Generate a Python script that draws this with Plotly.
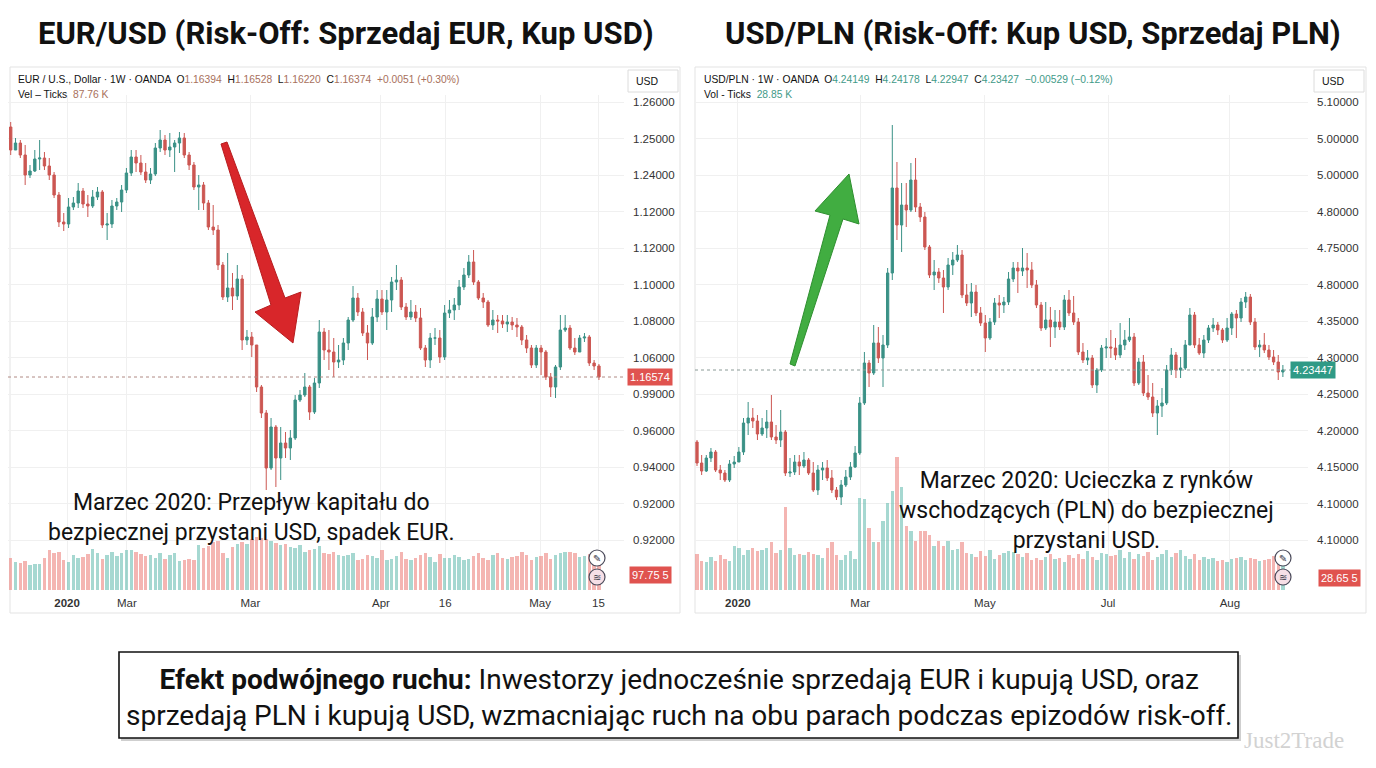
import plotly.graph_objects as go

W, H = 1376, 768
PAGE_PAD = 8  # the browser puts the figure 8px in from the page corner

# -----------------------------
# EUR/USD  (weekly candles, OANDA)
# -----------------------------
eur_first_open = 1.235
eur_close = [
    1.212, 1.219, 1.207, 1.187, 1.191, 1.203, 1.204, 1.196, 1.187, 1.167,
    1.140, 1.138, 1.155, 1.159, 1.171, 1.158, 1.156, 1.165, 1.170, 1.137,
    1.138, 1.156, 1.160, 1.172, 1.189, 1.205, 1.199, 1.190, 1.182, 1.188,
    1.214, 1.222, 1.212, 1.215, 1.219, 1.224, 1.207, 1.197, 1.175, 1.177,
    1.159, 1.135, 1.132, 1.097, 1.065, 1.074, 1.066, 1.083, 1.022, 1.025,
    1.017, 0.975, 0.949, 0.894, 0.935, 0.904, 0.919, 0.914, 0.924, 0.962,
    0.967, 0.975, 0.950, 0.979, 1.030, 1.012, 1.010, 1.000, 1.002, 1.019,
    1.042, 1.064, 1.050, 1.029, 1.019, 1.045, 1.063, 1.050, 1.062, 1.080,
    1.082, 1.055, 1.045, 1.050, 1.044, 1.014, 1.002, 1.024, 1.024, 1.005,
    1.049, 1.052, 1.057, 1.075, 1.087, 1.100, 1.080, 1.064, 1.060, 1.037,
    1.042, 1.041, 1.038, 1.040, 1.037, 1.035, 1.022, 1.014, 0.997, 1.014,
    1.010, 0.985, 0.975, 0.995, 1.032, 1.034, 1.014, 1.010, 1.024, 1.025,
    0.999, 0.996, 0.985,
]
eur_high = [
    1.240, 1.224, 1.222, 1.217, 1.197, 1.212, 1.222, 1.210, 1.204, 1.190,
    1.170, 1.149, 1.164, 1.165, 1.179, 1.174, 1.167, 1.172, 1.175, 1.172,
    1.149, 1.162, 1.164, 1.177, 1.194, 1.212, 1.212, 1.207, 1.199, 1.194,
    1.219, 1.232, 1.227, 1.229, 1.222, 1.230, 1.229, 1.210, 1.200, 1.187,
    1.180, 1.162, 1.157, 1.137, 1.100, 1.109, 1.089, 1.097, 1.087, 1.032,
    1.030, 1.017, 0.977, 0.952, 0.944, 0.937, 0.935, 0.930, 0.932, 0.967,
    0.972, 0.989, 0.977, 0.984, 1.042, 1.034, 1.032, 1.024, 1.017, 1.024,
    1.045, 1.076, 1.069, 1.054, 1.037, 1.054, 1.072, 1.072, 1.072, 1.085,
    1.097, 1.085, 1.059, 1.062, 1.057, 1.054, 1.017, 1.029, 1.034, 1.032,
    1.057, 1.062, 1.064, 1.082, 1.094, 1.107, 1.112, 1.082, 1.069, 1.062,
    1.052, 1.047, 1.047, 1.047, 1.045, 1.044, 1.037, 1.027, 1.017, 1.017,
    1.017, 1.012, 0.989, 0.997, 1.047, 1.047, 1.037, 1.024, 1.027, 1.029,
    1.027, 1.002, 0.998,
]
eur_low = [
    1.207, 1.212, 1.204, 1.177, 1.184, 1.190, 1.192, 1.192, 1.182, 1.164,
    1.135, 1.131, 1.134, 1.152, 1.154, 1.154, 1.145, 1.154, 1.162, 1.134,
    1.122, 1.134, 1.152, 1.150, 1.169, 1.186, 1.190, 1.187, 1.179, 1.178,
    1.186, 1.210, 1.207, 1.205, 1.190, 1.209, 1.204, 1.192, 1.172, 1.152,
    1.152, 1.132, 1.127, 1.092, 1.062, 1.060, 1.052, 1.062, 1.012, 1.017,
    1.005, 0.970, 0.944, 0.872, 0.892, 0.875, 0.882, 0.904, 0.902, 0.922,
    0.960, 0.965, 0.942, 0.948, 0.974, 1.002, 0.992, 0.985, 0.994, 0.997,
    1.012, 1.040, 1.046, 1.026, 1.002, 1.017, 1.040, 1.047, 1.032, 1.050,
    1.072, 1.052, 1.042, 1.042, 1.040, 1.012, 0.995, 0.994, 1.017, 0.999,
    1.002, 1.044, 1.042, 1.052, 1.072, 1.084, 1.077, 1.062, 1.054, 1.035,
    1.032, 1.029, 1.034, 1.030, 1.032, 1.025, 1.017, 1.009, 0.994, 0.994,
    0.987, 0.982, 0.965, 0.964, 0.992, 1.030, 1.012, 1.007, 1.010, 1.020,
    0.996, 0.992, 0.982,
]
eur_volume = [
    64, 56, 54, 58, 50, 52, 52, 64, 80, 74,
    76, 60, 56, 70, 64, 66, 72, 82, 74, 62,
    70, 76, 68, 74, 80, 80, 76, 72, 68, 70,
    64, 74, 62, 70, 74, 58, 60, 62, 60, 90,
    84, 88, 96, 100, 74, 64, 86, 92, 96, 92,
    104, 108, 106, 104, 100, 94, 90, 92, 86, 84,
    90, 76, 80, 82, 88, 74, 72, 76, 70, 68,
    70, 74, 60, 62, 70, 68, 64, 80, 60, 62,
    68, 76, 62, 60, 64, 70, 74, 66, 56, 72,
    64, 64, 70, 66, 60, 62, 68, 74, 64, 60,
    70, 74, 64, 62, 66, 68, 76, 70, 60, 66,
    68, 74, 62, 70, 74, 76, 76, 74, 66, 68,
    72, 60, 58,
]
eur_price_labels = ["1.26000", "1.25000", "1.24000", "1.12000", "1.12000", "1.10000", "1.08000",
                    "1.06000", "0.99000", "0.96000", "0.94000", "0.92000", "0.92000"]
eur_date_labels = ["<b>2020</b>", "Mar", "Mar", "Apr", "16", "May", "15"]
eur_date_pos = [11.7, 24.1, 49.7, 76.8, 90.1, 109.8, 121.9]

# -----------------------------
# USD/PLN  (weekly candles, OANDA)
# -----------------------------
pln_first_open = 4.420
pln_close = [
    4.378, 4.362, 4.388, 4.400, 4.364, 4.358, 4.344, 4.376, 4.380, 4.400,
    4.458, 4.468, 4.462, 4.436, 4.448, 4.460, 4.430, 4.424, 4.440, 4.358,
    4.360, 4.380, 4.372, 4.384, 4.358, 4.324, 4.364, 4.368, 4.348, 4.324,
    4.310, 4.334, 4.350, 4.370, 4.398, 4.498, 4.578, 4.558, 4.618, 4.588,
    4.614, 4.758, 4.928, 4.854, 4.894, 4.884, 4.944, 4.890, 4.870, 4.810,
    4.754, 4.760, 4.748, 4.730, 4.774, 4.784, 4.794, 4.714, 4.698, 4.720,
    4.678, 4.658, 4.628, 4.660, 4.698, 4.694, 4.700, 4.746, 4.768, 4.762,
    4.768, 4.764, 4.734, 4.694, 4.648, 4.664, 4.650, 4.660, 4.650, 4.704,
    4.678, 4.660, 4.600, 4.584, 4.588, 4.534, 4.564, 4.608, 4.610, 4.608,
    4.594, 4.614, 4.624, 4.630, 4.538, 4.580, 4.518, 4.510, 4.478, 4.492,
    4.498, 4.564, 4.594, 4.564, 4.568, 4.614, 4.674, 4.614, 4.598, 4.624,
    4.648, 4.654, 4.644, 4.624, 4.648, 4.676, 4.668, 4.700, 4.710, 4.660,
    4.610, 4.614, 4.604, 4.590, 4.580, 4.560, 4.564,
]
pln_high = [
    4.424, 4.394, 4.394, 4.408, 4.404, 4.374, 4.364, 4.384, 4.392, 4.410,
    4.468, 4.500, 4.488, 4.474, 4.468, 4.484, 4.514, 4.454, 4.484, 4.444,
    4.388, 4.394, 4.394, 4.400, 4.388, 4.380, 4.374, 4.380, 4.384, 4.364,
    4.330, 4.344, 4.364, 4.380, 4.412, 4.510, 4.600, 4.584, 4.654, 4.650,
    4.634, 4.768, 5.054, 4.980, 4.938, 4.938, 4.978, 4.988, 4.898, 4.880,
    4.814, 4.784, 4.768, 4.764, 4.788, 4.800, 4.814, 4.804, 4.736, 4.738,
    4.734, 4.690, 4.674, 4.668, 4.708, 4.714, 4.710, 4.760, 4.780, 4.780,
    4.808, 4.798, 4.780, 4.744, 4.700, 4.700, 4.690, 4.684, 4.684, 4.714,
    4.724, 4.712, 4.668, 4.618, 4.604, 4.594, 4.568, 4.614, 4.628, 4.644,
    4.628, 4.658, 4.644, 4.668, 4.638, 4.588, 4.594, 4.554, 4.538, 4.504,
    4.528, 4.574, 4.608, 4.600, 4.590, 4.624, 4.688, 4.680, 4.628, 4.634,
    4.654, 4.668, 4.660, 4.648, 4.668, 4.680, 4.684, 4.708, 4.720, 4.716,
    4.668, 4.624, 4.638, 4.614, 4.604, 4.594, 4.574,
]
pln_low = [
    4.372, 4.354, 4.360, 4.380, 4.360, 4.344, 4.340, 4.340, 4.368, 4.380,
    4.394, 4.434, 4.448, 4.424, 4.432, 4.428, 4.424, 4.416, 4.410, 4.352,
    4.350, 4.354, 4.354, 4.368, 4.354, 4.320, 4.314, 4.344, 4.342, 4.318,
    4.304, 4.294, 4.330, 4.344, 4.368, 4.394, 4.494, 4.530, 4.554, 4.578,
    4.530, 4.608, 4.744, 4.824, 4.800, 4.850, 4.880, 4.880, 4.860, 4.804,
    4.748, 4.724, 4.738, 4.678, 4.724, 4.754, 4.780, 4.708, 4.692, 4.670,
    4.672, 4.652, 4.600, 4.624, 4.654, 4.668, 4.678, 4.694, 4.740, 4.718,
    4.752, 4.728, 4.728, 4.688, 4.642, 4.644, 4.610, 4.628, 4.644, 4.644,
    4.672, 4.654, 4.594, 4.578, 4.574, 4.528, 4.518, 4.560, 4.588, 4.588,
    4.584, 4.588, 4.604, 4.620, 4.532, 4.534, 4.512, 4.504, 4.470, 4.434,
    4.470, 4.494, 4.554, 4.548, 4.548, 4.564, 4.614, 4.608, 4.594, 4.588,
    4.618, 4.640, 4.634, 4.618, 4.620, 4.634, 4.628, 4.660, 4.688, 4.654,
    4.604, 4.590, 4.598, 4.584, 4.574, 4.544, 4.550,
]
pln_volume = [
    72, 58, 56, 66, 58, 70, 62, 58, 88, 84,
    70, 80, 84, 78, 80, 84, 96, 74, 80, 168,
    84, 70, 72, 70, 76, 72, 70, 64, 84, 96,
    70, 60, 70, 78, 62, 186, 184, 125, 96, 96,
    140, 176, 200, 268, 208, 130, 120, 100, 120, 120,
    112, 88, 100, 88, 100, 80, 82, 96, 74, 72,
    66, 78, 68, 80, 62, 70, 74, 78, 76, 72,
    66, 74, 60, 64, 60, 66, 72, 62, 64, 56,
    70, 64, 72, 62, 78, 66, 60, 74, 72, 68,
    70, 80, 64, 76, 62, 72, 68, 76, 60, 66,
    72, 80, 66, 74, 80, 68, 62, 72, 60, 66,
    62, 64, 58, 60, 56, 62, 64, 66, 60, 64,
    62, 58, 60, 62, 68, 70, 56,
]
pln_price_labels = ["5.10000", "5.00000", "5.00000", "4.80000", "4.75000", "4.80000", "4.35000",
                    "4.30000", "4.25000", "4.20000", "4.15000", "4.10000", "4.10000"]
pln_date_labels = ["<b>2020</b>", "Mar", "May", "Jul", "Aug"]
pln_date_pos = [8.8, 35.1, 61.9, 88.4, 114.6]

# -----------------------------
# STYLE
# -----------------------------
UP = "#3a9186"
DOWN = "#cc5752"
UP_VOL = "rgba(92,184,172,0.55)"
DOWN_VOL = "rgba(236,128,122,0.58)"
GRID = "#f0f0f0"
TICK_FONT = dict(family="Liberation Sans, Arial", size=11.5, color="#333")

FW, FH = W - PAGE_PAD, H - PAGE_PAD


def px(x):
    return (x - PAGE_PAD) / FW


def py(y):
    return 1 - (y - PAGE_PAD) / FH


def poly(points):
    return "M " + " L ".join(f"{px(x):.5f},{py(y):.5f}" for x, y in points) + " Z"


def opens_from(first, closes):
    return [first] + closes[:-1]


eur_open = opens_from(eur_first_open, eur_close)
pln_open = opens_from(pln_first_open, pln_close)
eur_x = list(range(len(eur_close)))
pln_x = list(range(len(pln_close)))


def vol_colors(o, c):
    return [UP_VOL if cc >= oo else DOWN_VOL for oo, cc in zip(o, c)]


fig = go.Figure()

# volume (overlay axes)
fig.add_trace(go.Bar(x=eur_x, y=eur_volume, marker_color=vol_colors(eur_open, eur_close),
                     marker_line_width=0, width=0.72, xaxis="x", yaxis="y2",
                     showlegend=False, hoverinfo="skip"))
fig.add_trace(go.Bar(x=pln_x, y=pln_volume, marker_color=vol_colors(pln_open, pln_close),
                     marker_line_width=0, width=0.72, xaxis="x2", yaxis="y4",
                     showlegend=False, hoverinfo="skip"))

# candles
candle_style = dict(
    increasing=dict(line=dict(color=UP, width=1), fillcolor=UP),
    decreasing=dict(line=dict(color=DOWN, width=1), fillcolor=DOWN),
    whiskerwidth=0, showlegend=False, hoverinfo="skip",
)
fig.add_trace(go.Candlestick(x=eur_x, open=eur_open, high=eur_high, low=eur_low, close=eur_close,
                             xaxis="x", yaxis="y", **candle_style))
fig.add_trace(go.Candlestick(x=pln_x, open=pln_open, high=pln_high, low=pln_low, close=pln_close,
                             xaxis="x2", yaxis="y3", **candle_style))

# -----------------------------
# AXES
# -----------------------------
y_dom = [py(590), py(95)]
x_common = dict(showgrid=True, gridcolor=GRID, gridwidth=1, zeroline=False, showline=False,
                ticks="", tickfont=TICK_FONT, rangeslider=dict(visible=False), fixedrange=True,
                tickmode="array", ticklabelstandoff=4)
y_common = dict(showgrid=True, gridcolor=GRID, gridwidth=1, zeroline=False, showline=False,
                ticks="", side="right", tickfont=TICK_FONT, tickmode="array",
                ticklabelstandoff=8, fixedrange=True)

fig.update_layout(
    xaxis=dict(domain=[px(8), px(624)], range=[-0.56, 127.2], anchor="y",
               tickvals=eur_date_pos, ticktext=eur_date_labels, **x_common),
    yaxis=dict(domain=y_dom, range=[0.772, 1.267], anchor="x",
               tickvals=[1.26 - 0.0365 * i for i in range(len(eur_price_labels))],
               ticktext=eur_price_labels, **y_common),
    yaxis2=dict(overlaying="y", anchor="x", range=[0, 1000], visible=False, fixedrange=True),
    xaxis2=dict(domain=[px(695), px(1308)], range=[-0.43, 131.4], anchor="y3",
                tickvals=pln_date_pos, ticktext=pln_date_labels, **x_common),
    yaxis3=dict(domain=y_dom, range=[4.124, 5.114], anchor="x2",
                tickvals=[5.10 - 0.073 * i for i in range(len(pln_price_labels))],
                ticktext=pln_price_labels, **y_common),
    yaxis4=dict(overlaying="y3", anchor="x2", range=[0, 1000], visible=False, fixedrange=True),
)

# -----------------------------
# SHAPES
# -----------------------------
shapes = []
# panels
for x0, x1 in [(10, 680), (695, 1366)]:
    shapes.append(dict(type="rect", xref="paper", yref="paper", x0=px(x0), x1=px(x1),
                       y0=py(613), y1=py(67), line=dict(color="#e3e3e3", width=1),
                       fillcolor="rgba(0,0,0,0)", layer="below"))
# USD buttons
for x0 in [628, 1314]:
    shapes.append(dict(type="rect", xref="paper", yref="paper", x0=px(x0), x1=px(x0 + 50),
                       y0=py(92), y1=py(70), line=dict(color="#dcdcdc", width=1),
                       fillcolor="white"))
# last price dotted lines
shapes.append(dict(type="line", xref="x domain", yref="y", x0=0, x1=1,
                   y0=eur_close[-1], y1=eur_close[-1], line=dict(color="#b08a84", width=1, dash="dot")))
shapes.append(dict(type="line", xref="x2 domain", yref="y3", x0=0, x1=1,
                   y0=pln_close[-1], y1=pln_close[-1], line=dict(color="#8a9a96", width=1, dash="dot")))
# arrows
shapes.append(dict(type="path", xref="paper", yref="paper",
                   path=poly([(221, 144), (227, 142), (285, 298), (301, 292), (293, 343), (255, 312), (271, 305)]),
                   fillcolor="#d8262a", line=dict(color="#b71d1f", width=1)))
shapes.append(dict(type="path", xref="paper", yref="paper",
                   path=poly([(790, 364), (830, 215), (815, 211), (849, 174), (859, 224), (843, 219), (795, 366)]),
                   fillcolor="#41ad41", line=dict(color="#2f8f30", width=1)))
# small tool icons
for cx in [597, 1283]:
    for cy, fill in [(558, "white"), (577, "#f6dfe6")]:
        shapes.append(dict(type="circle", xref="paper", yref="paper", x0=px(cx - 8), x1=px(cx + 8),
                           y0=py(cy + 8), y1=py(cy - 8), line=dict(color="#4a4a5a", width=1.2),
                           fillcolor=fill))
# bottom box (shadow + frame)
shapes.append(dict(type="rect", xref="paper", yref="paper", x0=px(121), x1=px(1241),
                   y0=py(741), y1=py(655), line=dict(width=0), fillcolor="#cfcfcf"))
shapes.append(dict(type="rect", xref="paper", yref="paper", x0=px(119), x1=px(1238),
                   y0=py(738), y1=py(652), line=dict(color="#111", width=1.6), fillcolor="white"))
fig.update_layout(shapes=shapes)

# -----------------------------
# TEXT
# -----------------------------
ann = []


def note(x, y, text, size, color="#111", family="Roboto", xanchor="center", **kw):
    ann.append(dict(x=px(x), y=py(y), xref="paper", yref="paper", text=text, showarrow=False,
                    xanchor=xanchor, yanchor="middle",
                    font=dict(family=family, size=size, color=color), **kw))


note(346, 34, "<b>EUR/USD (Risk-Off: Sprzedaj EUR, Kup USD)</b>", 31)
note(1033, 34, "<b>USD/PLN (Risk-Off: Kup USD, Sprzedaj PLN)</b>", 31)

brown = "#a8705c"
teal = "#3f9a88"
sm = "Liberation Sans, Arial"
note(16, 80, "EUR / U.S., Dollar · 1W · OANDA  O<span style='color:%s'>1.16394</span>  "
             "H<span style='color:%s'>1.16528</span>  L<span style='color:%s'>1.16220</span>  "
             "C<span style='color:%s'>1.16374</span>  <span style='color:%s'>+0.0051 (+0.30%%)</span>"
     % (brown, brown, brown, brown, brown), 10.3, family=sm, xanchor="left")
note(16, 95, "Vel – Ticks  <span style='color:%s'>87.76 K</span>" % brown, 10.3, family=sm, xanchor="left")
note(702, 80, "USD/PLN · 1W · OANDA  O<span style='color:%s'>4.24149</span>  "
              "H<span style='color:%s'>4.24178</span>  L<span style='color:%s'>4.22947</span>  "
              "C<span style='color:%s'>4.23427</span>  <span style='color:%s'>−0.00529 (−0.12%%)</span>"
     % (teal, teal, teal, teal, teal), 10.3, family=sm, xanchor="left")
note(702, 95, "Vol - Ticks  <span style='color:%s'>28.85 K</span>" % teal, 10.3, family=sm, xanchor="left")
note(634, 81, "USD", 10.5, family=sm, xanchor="left")
note(1320, 81, "USD", 10.5, family=sm, xanchor="left")

# tool icon glyphs
for cx in [597, 1283]:
    note(cx, 558, "✎", 10, color="#3a3a4a", family="DejaVu Sans")
    note(cx, 577, "≋", 10, color="#3a3a4a", family="DejaVu Sans")

# last price tags
ann.append(dict(x=px(650), y=eur_close[-1], xref="paper", yref="y", text="1.16574", showarrow=False,
                font=dict(family=sm, size=11, color="white"), bgcolor="#e0534f", borderpad=2))
ann.append(dict(x=px(1336), y=pln_close[-1], xref="paper", yref="y3", text="4.23447", showarrow=False,
                font=dict(family=sm, size=11, color="white"), bgcolor="#2f9a86", borderpad=2))
note(650, 575, "97.75 5", 11, color="white", family=sm, bgcolor="#e0534f", borderpad=2)
note(1339, 578, "28.65 5", 11, color="white", family=sm, bgcolor="#e0534f", borderpad=2)

# chart notes
note(251, 517, "Marzec 2020: Przepływ kapitału do<br>bezpiecznej przystani USD, spadek EUR.", 23)
note(1086, 510, "Marzec 2020: Ucieczka z rynków<br>wschodzących (PLN) do bezpiecznej<br>przystani USD.", 23)

# bottom message
note(679, 697, "<b>Efekt podwójnego ruchu:</b> Inwestorzy jednocześnie sprzedają EUR i kupują USD, oraz<br>"
               "sprzedają PLN i kupują USD, wzmacniając ruch na obu parach podczas epizodów risk-off.", 28)
note(1294, 740, "Just2Trade", 23, color="#d2d2d2", family="Liberation Serif")

fig.update_layout(
    annotations=ann,
    width=FW, height=FH,
    margin=dict(l=0, r=0, t=0, b=0),
    paper_bgcolor="white",
    plot_bgcolor="rgba(0,0,0,0)",
    showlegend=False,
    bargap=0,
)

fig.write_html("out.html")
